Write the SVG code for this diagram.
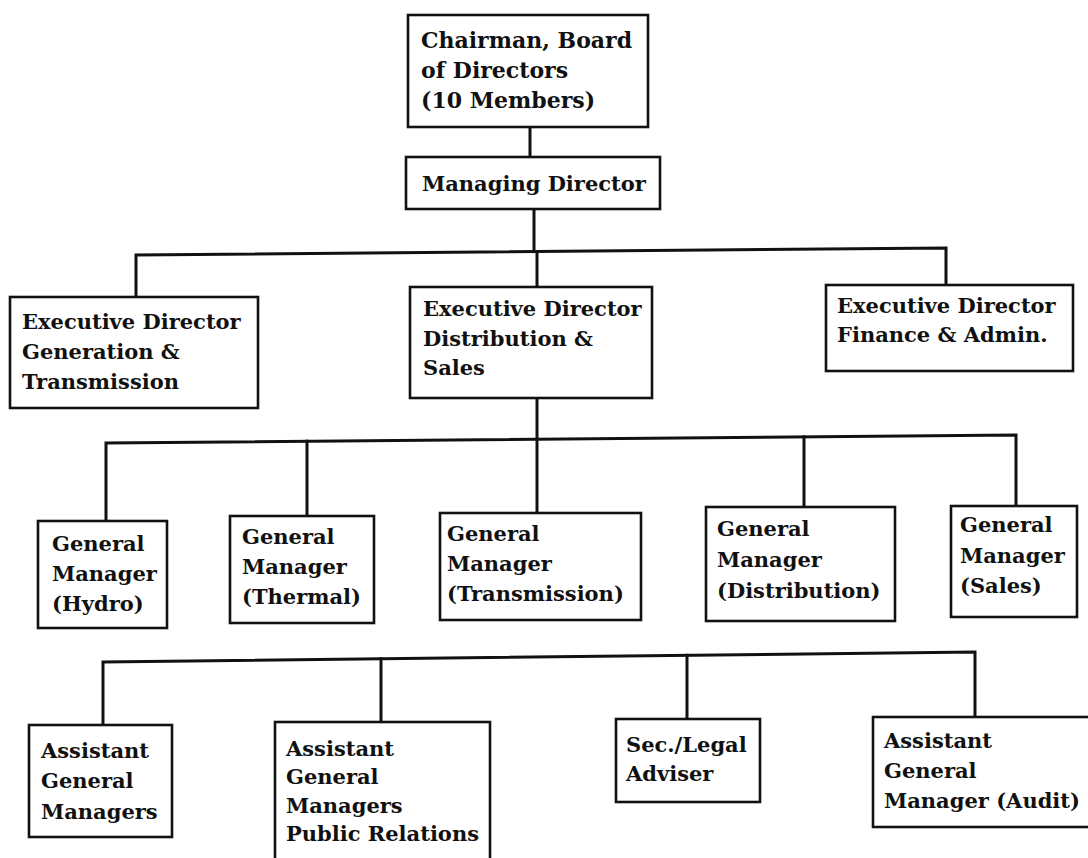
<svg xmlns="http://www.w3.org/2000/svg" width="1088" height="858" viewBox="0 0 1088 858">
  <style>
    .box { fill: #ffffff; stroke: #111111; stroke-width: 2.6; }
    .lbl { font-family: "DejaVu Serif", "Liberation Serif", serif; font-weight: bold; font-size: 21px; fill: #111111; }
    .wide { font-size: 22px; }
    .wire { fill: none; stroke: #111111; stroke-width: 3; stroke-linecap: square; stroke-linejoin: miter; }
  </style>
  <rect width="1088" height="858" fill="#ffffff"/>

  <!-- reporting lines -->
  <g id="connectors">
    <path class="wire" d="M530,127 V157"/>
    <path class="wire" d="M534,209 V251.6"/>
    <path class="wire" d="M136,297 V255 L946,248 V285"/>
    <path class="wire" d="M537,251.5 V287"/>
    <path class="wire" d="M537,398 V513"/>
    <path class="wire" d="M106,521 V443 L1016,435 V506"/>
    <path class="wire" d="M307,441.2 V516"/>
    <path class="wire" d="M804,436.9 V507"/>
    <path class="wire" d="M103,725 V662 L975,652 V717"/>
    <path class="wire" d="M381,658.8 V722"/>
    <path class="wire" d="M687,655.3 V719"/>
  </g>

  <!-- board level -->
  <g id="chairman">
    <rect class="box" x="408" y="15" width="240" height="112"/>
    <text class="lbl wide"><tspan x="421" y="48">Chairman, Board</tspan><tspan x="421" y="78">of Directors</tspan><tspan x="421" y="108">(10 Members)</tspan></text>
  </g>
  <g id="managing-director">
    <rect class="box" x="406" y="157" width="254" height="52"/>
    <text class="lbl" x="422" y="191">Managing Director</text>
  </g>

  <!-- executive directors -->
  <g id="ed-generation">
    <rect class="box" x="10" y="297" width="248" height="111"/>
    <text class="lbl"><tspan x="22" y="329">Executive Director</tspan><tspan x="22" y="359">Generation &amp;</tspan><tspan x="22" y="389">Transmission</tspan></text>
  </g>
  <g id="ed-distribution">
    <rect class="box" x="410" y="287" width="242" height="111"/>
    <text class="lbl"><tspan x="423" y="316">Executive Director</tspan><tspan x="423" y="346">Distribution &amp;</tspan><tspan x="423" y="375">Sales</tspan></text>
  </g>
  <g id="ed-finance">
    <rect class="box" x="826" y="285" width="247" height="86"/>
    <text class="lbl"><tspan x="837" y="313">Executive Director</tspan><tspan x="837" y="342">Finance &amp; Admin.</tspan></text>
  </g>

  <!-- general managers -->
  <g id="gm-hydro">
    <rect class="box" x="38" y="521" width="129" height="107"/>
    <text class="lbl"><tspan x="52" y="551">General</tspan><tspan x="52" y="581">Manager</tspan><tspan x="52" y="611">(Hydro)</tspan></text>
  </g>
  <g id="gm-thermal">
    <rect class="box" x="230" y="516" width="144" height="107"/>
    <text class="lbl"><tspan x="242" y="544">General</tspan><tspan x="242" y="574">Manager</tspan><tspan x="242" y="604">(Thermal)</tspan></text>
  </g>
  <g id="gm-transmission">
    <rect class="box" x="440" y="513" width="201" height="107"/>
    <text class="lbl"><tspan x="447" y="541">General</tspan><tspan x="447" y="571">Manager</tspan><tspan x="447" y="601">(Transmission)</tspan></text>
  </g>
  <g id="gm-distribution">
    <rect class="box" x="706" y="507" width="189" height="114"/>
    <text class="lbl"><tspan x="717" y="536">General</tspan><tspan x="717" y="567">Manager</tspan><tspan x="717" y="598">(Distribution)</tspan></text>
  </g>
  <g id="gm-sales">
    <rect class="box" x="951" y="506" width="126" height="111"/>
    <text class="lbl"><tspan x="960" y="532">General</tspan><tspan x="960" y="563">Manager</tspan><tspan x="960" y="593">(Sales)</tspan></text>
  </g>

  <!-- assistant general managers and advisers -->
  <g id="agm">
    <rect class="box" x="29" y="725" width="143" height="112"/>
    <text class="lbl"><tspan x="41" y="758">Assistant</tspan><tspan x="41" y="788">General</tspan><tspan x="41" y="819">Managers</tspan></text>
  </g>
  <g id="agm-public-relations">
    <rect class="box" x="275" y="722" width="215" height="150"/>
    <text class="lbl"><tspan x="286" y="756">Assistant</tspan><tspan x="286" y="784">General</tspan><tspan x="286" y="813">Managers</tspan><tspan x="286" y="841">Public Relations</tspan></text>
  </g>
  <g id="sec-legal">
    <rect class="box" x="616" y="719" width="144" height="83"/>
    <text class="lbl"><tspan x="626" y="752">Sec./Legal</tspan><tspan x="626" y="781">Adviser</tspan></text>
  </g>
  <g id="agm-audit">
    <rect class="box" x="873" y="717" width="220" height="110"/>
    <text class="lbl"><tspan x="884" y="748">Assistant</tspan><tspan x="884" y="778">General</tspan><tspan x="884" y="808">Manager (Audit)</tspan></text>
  </g>
</svg>
